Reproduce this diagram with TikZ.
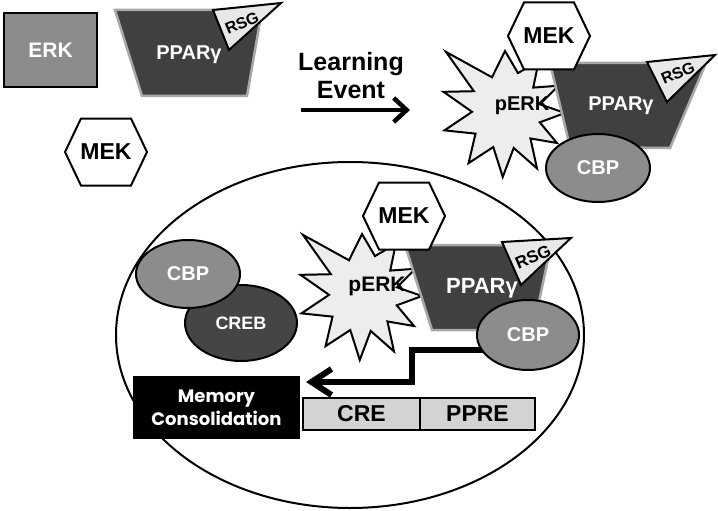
\documentclass[tikz,border=0pt]{standalone}
\usepackage{fontspec}
\setmainfont{Liberation Sans}
\newfontfamily\memfont{Poppins}
\usetikzlibrary{shapes.geometric,arrows.meta,calc}
\definecolor{midgray}{HTML}{8C8C8C}
\definecolor{darkgray}{HTML}{404040}
\definecolor{creb}{HTML}{454545}
\definecolor{starfill}{HTML}{EDEDED}
\definecolor{rsgfill}{HTML}{E8E8E8}
\definecolor{boxfill}{HTML}{D3D3D3}
\definecolor{pparline}{HTML}{A8A8A8}
\newcommand\fs[1]{\fontsize{#1}{#1}\selectfont}
\newcommand\perkstar[1]{\draw[starsty,shift={#1}] (0:60) -- (15:36) -- (30:60) -- (45:36) -- (60:64) -- (76:36) -- (92:64) -- (109:36) -- (126:62) -- (145:36) -- (164:63) -- (182:33) -- (199:65) -- (215:38) -- (226:85) -- (250:38) -- (270:62) -- (288:42) -- (303:62) -- (318:38) -- (333:60) -- (346:36) -- cycle;}
\newcommand\hexshape[1]{\draw[hexsty,shift={#1}] (-41,0) -- (-25,-33.5) -- (25,-33.5) -- (41,0) -- (25,33.5) -- (-25,33.5) -- cycle;}
\begin{document}
\begin{tikzpicture}[x=1pt,y=-1pt,
  lbl/.style={font=\bfseries\fs{#1}},
  wlbl/.style={lbl=#1,text=white,inner sep=0pt},
  blbl/.style={lbl=#1,text=black,inner sep=0pt},
  starsty/.style={draw=black,fill=starfill,line width=2pt,line join=miter},
  hexsty/.style={draw=black,fill=white,line width=2pt},
  pparsty/.style={draw=pparline,fill=darkgray,line width=2.5pt},
  rsgsty/.style={draw=black,fill=rsgfill,line width=2pt,line join=miter},
  oval/.style={ellipse,draw=black,line width=2pt,inner sep=0pt},
  genebox/.style={draw=black,fill=boxfill,line width=1.8pt,minimum height=32pt,inner sep=0pt,lbl=23},
  thickarrow/.style={line width=#1}
]
\useasboundingbox (0,0) rectangle (718,511);
\fill[white] (0,0) rectangle (718,511);

% ---------- top left: inactive ----------
\node[draw=black,fill=midgray,line width=2pt,minimum width=93pt,minimum height=74pt,wlbl=21] (erk) at (50.5,50.5) {ERK};
\draw[pparsty] (115,10) -- (262,10) -- (247,96) -- (142,96) -- cycle;
\node[wlbl=20] (ppar1) at (189,55) {PPARγ};
\draw[rsgsty] (213,10) -- (281,3) -- (229,50) -- cycle;
\node[blbl=16,rotate=23] (rsg1) at (242,23) {RSG};
\hexshape{(106,152)}
\node[blbl=23] (mek1) at (106,152) {MEK};

% ---------- learning event ----------
\node[blbl=25,align=center,font=\bfseries\fontsize{25}{28}\selectfont] (learn) at (351,76) {Learning\\Event};
\coordinate (evs) at (301,110);
\coordinate (eve) at (410,110);
\draw[line width=4.5pt,-{Straight Barb[length=13pt,width=24pt]}] (evs) -- (eve);

% ---------- top right: activated complex ----------
\perkstar{(505,113)}
\draw[pparsty] (550,63) -- (706,63) -- (670,148) -- (570,147) -- cycle;
\node[blbl=20] (perk2) at (522,106) {pERK};
\node[wlbl=20] (ppar2) at (621,106) {PPARγ};
\draw[rsgsty] (647,62) -- (715,55) -- (667,102) -- cycle;
\node[blbl=16,rotate=23] (rsg2) at (678,73) {RSG};
\hexshape{(549,36)}
\node[blbl=23] (mek2) at (549,36) {MEK};
\node[oval,fill=midgray,minimum width=104pt,minimum height=68pt,wlbl=20] (cbp2) at (598,168) {CBP};

% ---------- nucleus ----------
\node[ellipse,draw=black,line width=2pt,minimum width=468pt,minimum height=346pt,inner sep=0pt] (nucleus) at (350,335) {};

\node[oval,fill=creb,minimum width=112pt,minimum height=76pt,wlbl=18] (creb) at (241,323) {CREB};
\node[oval,fill=midgray,minimum width=104pt,minimum height=68pt,wlbl=20] (cbp3) at (188,274) {CBP};

\perkstar{(362,296)}
\draw[pparsty] (405,245) -- (551,245) -- (533,330) -- (432,330) -- cycle;
\node[blbl=21] (perk3) at (377,286) {pERK};
\node[wlbl=22] (ppar3) at (482,288) {PPARγ};
\draw[rsgsty] (502,242) -- (571,238) -- (521,285) -- cycle;
\node[blbl=17,rotate=23] (rsg3) at (533,257) {RSG};
\hexshape{(404,216)}
\node[blbl=23] (mek3) at (404,216) {MEK};

\coordinate (ars) at (490,350);
\coordinate (arm1) at (412,350);
\coordinate (arm2) at (412,382);
\coordinate (are) at (306,382);
\draw[line width=6pt,-{Straight Barb[length=20pt,width=26pt]}] (ars) -- (arm1) -- (arm2) -- (are);

\node[oval,fill=midgray,minimum width=102pt,minimum height=70pt,wlbl=20] (cbp4) at (528,335) {CBP};

\node[genebox,minimum width=117pt] (cre) at (361.5,414) {CRE};
\node[genebox,minimum width=115pt] (ppre) at (477.5,414) {PPRE};

\node[fill=black,minimum width=167pt,minimum height=63pt,inner sep=0pt,text=white,align=center,font=\memfont\bfseries\fontsize{18}{23}\selectfont] (memory) at (216.5,407.5) {Memory\\Consolidation};
\end{tikzpicture}
\end{document}
